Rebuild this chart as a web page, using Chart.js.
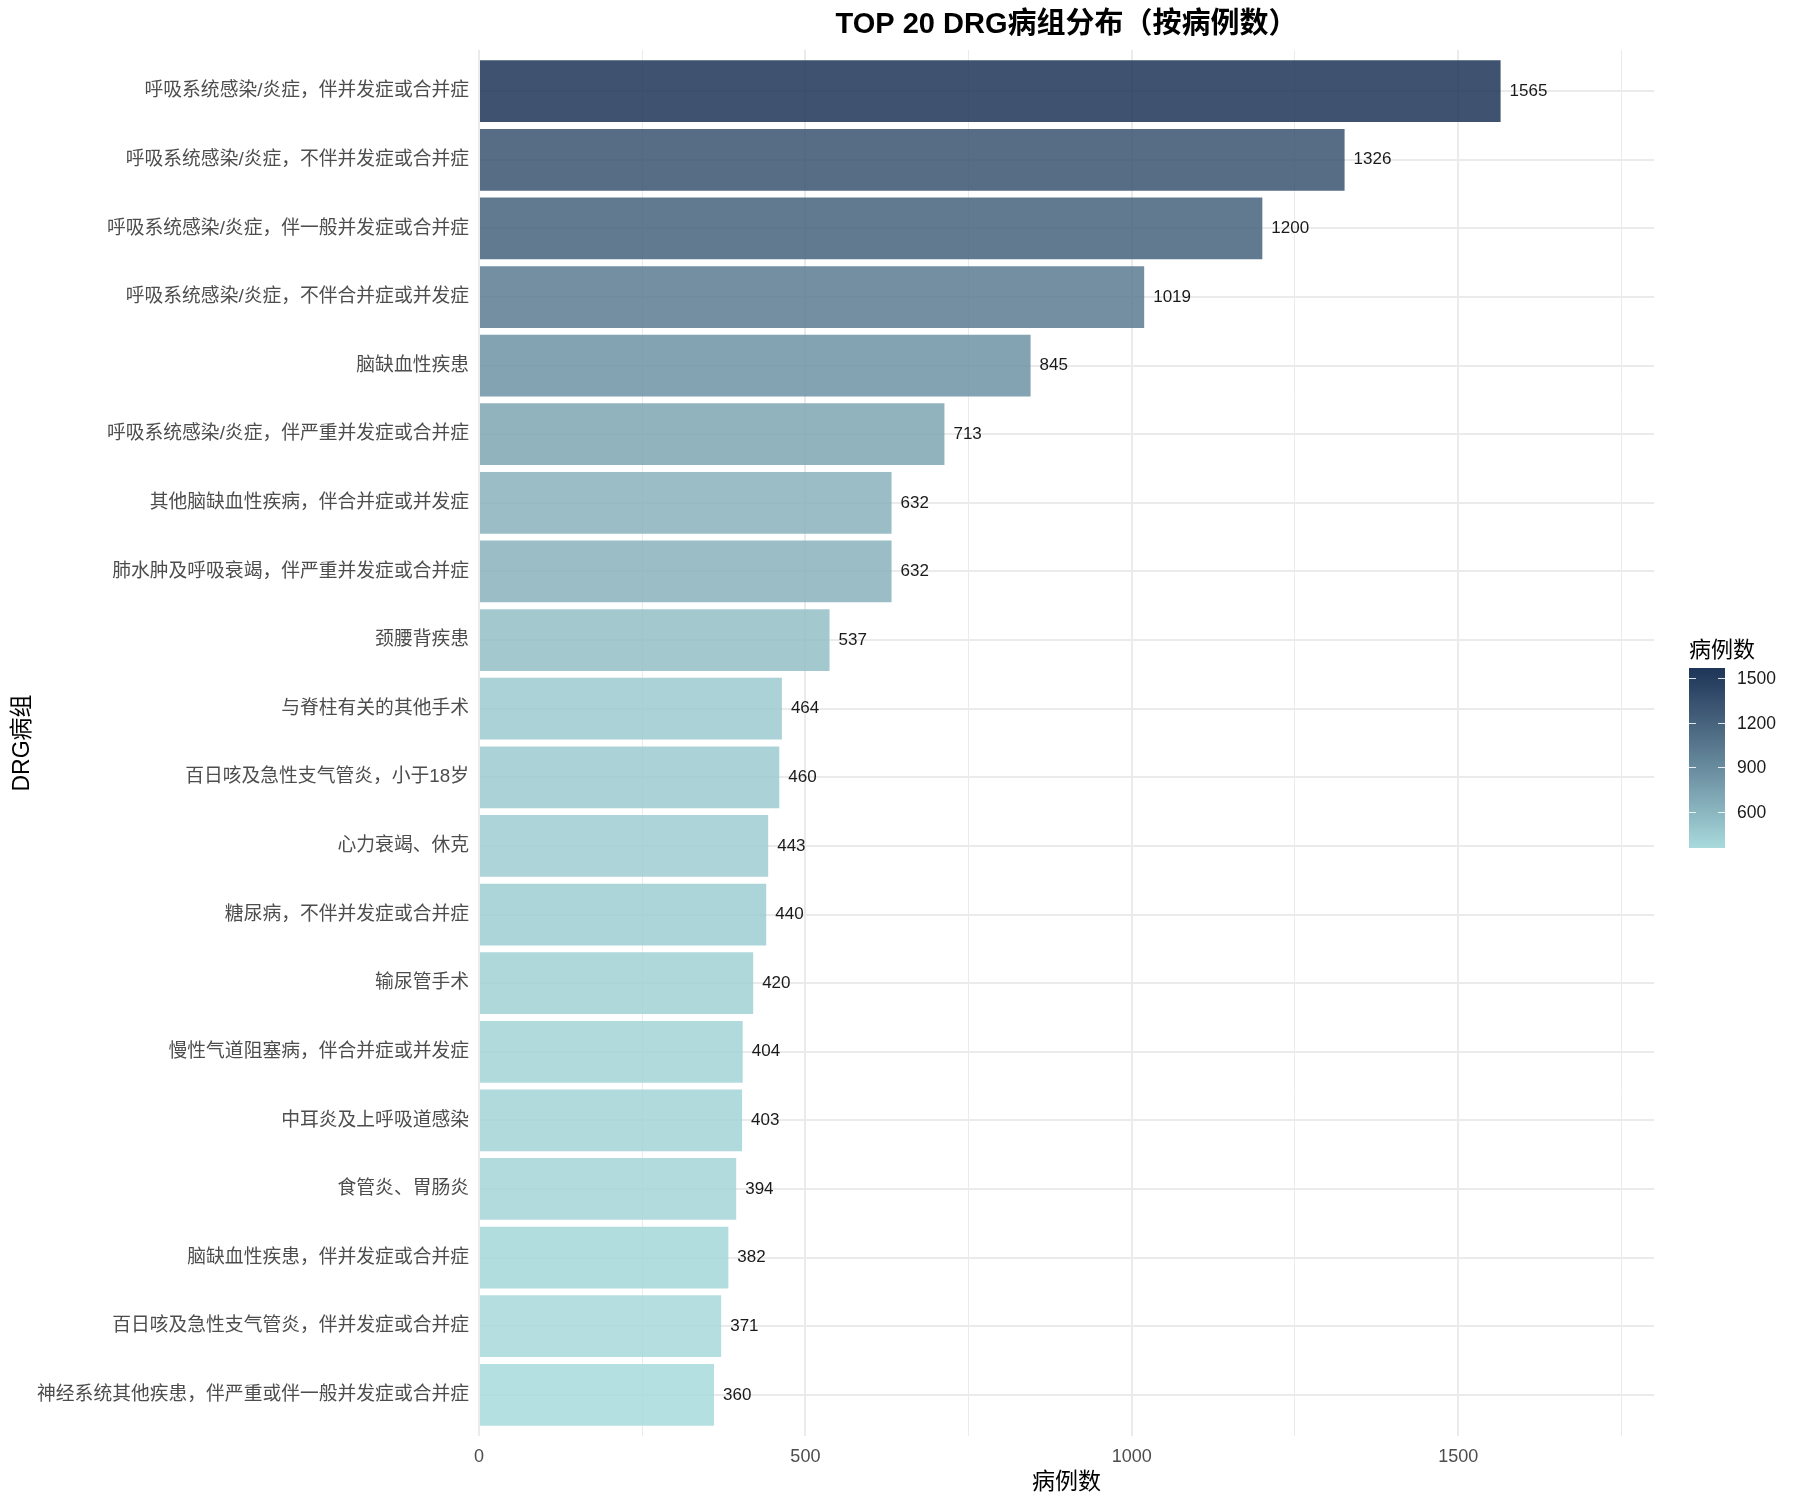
<!DOCTYPE html>
<html>
<head>
<meta charset="utf-8">
<script src="https://cdn.jsdelivr.net/npm/chart.js@4.4.0/dist/chart.umd.min.js"></script>
<style>
  html, body { margin: 0; padding: 0; background: #fff; }
  canvas { display: block; }
</style>
</head>
<body>
<canvas id="chart" width="1800" height="1500"></canvas>
<script>
// TOP 20 DRG groups by case count, largest first (top of the chart)
const groups = [
  "呼吸系统感染/炎症，伴并发症或合并症",
  "呼吸系统感染/炎症，不伴并发症或合并症",
  "呼吸系统感染/炎症，伴一般并发症或合并症",
  "呼吸系统感染/炎症，不伴合并症或并发症",
  "脑缺血性疾患",
  "呼吸系统感染/炎症，伴严重并发症或合并症",
  "其他脑缺血性疾病，伴合并症或并发症",
  "肺水肿及呼吸衰竭，伴严重并发症或合并症",
  "颈腰背疾患",
  "与脊柱有关的其他手术",
  "百日咳及急性支气管炎，小于18岁",
  "心力衰竭、休克",
  "糖尿病，不伴并发症或合并症",
  "输尿管手术",
  "慢性气道阻塞病，伴合并症或并发症",
  "中耳炎及上呼吸道感染",
  "食管炎、胃肠炎",
  "脑缺血性疾患，伴并发症或合并症",
  "百日咳及急性支气管炎，伴并发症或合并症",
  "神经系统其他疾患，伴严重或伴一般并发症或合并症"
];
const cases = [1565, 1326, 1200, 1019, 845, 713, 632, 632, 537, 464,
               460, 443, 440, 420, 404, 403, 394, 382, 371, 360];

const xMax = 1800;
const xGridValues = [0, 250, 500, 750, 1000, 1250, 1500, 1750];
const xLabelValues = [0, 500, 1000, 1500];
const legendTicks = [600, 900, 1200, 1500];

const LOW = "#A8DADC";
const HIGH = "#1D3557";
const BAR_ALPHA = 0.85;

const SANS = '"Liberation Sans", Arial, "Noto Sans CJK SC", sans-serif';

// --- colour gradient, interpolated in Lab like ggplot's scale_fill_gradient
function hexToRgb(h) {
  const n = parseInt(h.slice(1), 16);
  return [(n >> 16) & 255, (n >> 8) & 255, n & 255];
}
function toLin(c) { c /= 255; return c <= 0.04045 ? c / 12.92 : Math.pow((c + 0.055) / 1.055, 2.4); }
function fromLin(c) { const v = c <= 0.0031308 ? 12.92 * c : 1.055 * Math.pow(c, 1 / 2.4) - 0.055; return Math.max(0, Math.min(255, Math.round(v * 255))); }
const WP = [0.95047, 1, 1.08883];
function rgbToLab(rgb) {
  const [r, g, b] = rgb.map(toLin);
  const xyz = [
    0.4124 * r + 0.3576 * g + 0.1805 * b,
    0.2126 * r + 0.7152 * g + 0.0722 * b,
    0.0193 * r + 0.1192 * g + 0.9505 * b
  ].map((v, i) => v / WP[i]);
  const f = t => t > 0.008856 ? Math.cbrt(t) : 7.787 * t + 16 / 116;
  const [fx, fy, fz] = xyz.map(f);
  return [116 * fy - 16, 500 * (fx - fy), 200 * (fy - fz)];
}
function labToRgb([L, a, b]) {
  const fy = (L + 16) / 116, fx = fy + a / 500, fz = fy - b / 200;
  const inv = t => t * t * t > 0.008856 ? t * t * t : (t - 16 / 116) / 7.787;
  const [x, y, z] = [inv(fx), inv(fy), inv(fz)].map((v, i) => v * WP[i]);
  return [
     3.2406 * x - 1.5372 * y - 0.4986 * z,
    -0.9689 * x + 1.8758 * y + 0.0415 * z,
     0.0557 * x - 0.2040 * y + 1.0570 * z
  ].map(fromLin);
}
const labLow = rgbToLab(hexToRgb(LOW));
const labHigh = rgbToLab(hexToRgb(HIGH));
const vMin = Math.min(...cases), vMax = Math.max(...cases);
function colorFor(v, alpha) {
  const t = (v - vMin) / (vMax - vMin);
  const lab = labLow.map((c, i) => c + (labHigh[i] - c) * t);
  const [r, g, b] = labToRgb(lab);
  return `rgba(${r},${g},${b},${alpha})`;
}

// --- plugins: title over the panel, value labels, colourbar legend
const panelTitle = {
  id: "panelTitle",
  afterDraw(chart) {
    const { ctx, chartArea } = chart;
    ctx.save();
    ctx.font = `bold 29px ${SANS}`;
    ctx.fillStyle = "#000";
    ctx.textAlign = "center";
    ctx.textBaseline = "middle";
    ctx.fillText("TOP 20 DRG病组分布（按病例数）", (chartArea.left + chartArea.right) / 2, 25);
    ctx.restore();
  }
};

const valueLabels = {
  id: "valueLabels",
  afterDatasetsDraw(chart) {
    const { ctx } = chart;
    const meta = chart.getDatasetMeta(0);
    ctx.save();
    ctx.font = `17px ${SANS}`;
    ctx.fillStyle = "#1a1a1a";
    ctx.textAlign = "left";
    ctx.textBaseline = "middle";
    meta.data.forEach((bar, i) => {
      ctx.fillText(String(cases[i]), bar.x + 9, bar.y);
    });
    ctx.restore();
  }
};

const colourbar = {
  id: "colourbar",
  afterDraw(chart) {
    const { ctx } = chart;
    const x0 = 1689, w = 36, yTop = 668, yBot = 848;
    const yFor = v => yBot - (v - vMin) / (vMax - vMin) * (yBot - yTop);
    ctx.save();
    ctx.font = `22px ${SANS}`;
    ctx.fillStyle = "#000";
    ctx.textAlign = "left";
    ctx.textBaseline = "middle";
    ctx.fillText("病例数", x0, 651);
    const grad = ctx.createLinearGradient(0, yBot, 0, yTop);
    for (let k = 0; k <= 20; k++) {
      const v = vMin + (vMax - vMin) * k / 20;
      grad.addColorStop(k / 20, colorFor(v, 1));
    }
    ctx.fillStyle = grad;
    ctx.fillRect(x0, yTop, w, yBot - yTop);
    ctx.strokeStyle = "rgba(255,255,255,0.85)";
    ctx.lineWidth = 1;
    ctx.font = `17.5px ${SANS}`;
    ctx.fillStyle = "#1a1a1a";
    legendTicks.forEach(v => {
      const y = Math.round(yFor(v)) + 0.5;
      ctx.beginPath();
      ctx.moveTo(x0, y); ctx.lineTo(x0 + 7, y);
      ctx.moveTo(x0 + w - 7, y); ctx.lineTo(x0 + w, y);
      ctx.stroke();
      ctx.fillText(String(v), 1737, y + 1);
    });
    ctx.restore();
  }
};

new Chart(document.getElementById("chart"), {
  type: "bar",
  data: {
    datasets: [{
      data: cases.map((v, i) => ({ x: v, y: i })),
      backgroundColor: cases.map(v => colorFor(v, BAR_ALPHA)),
      borderWidth: 0,
      barPercentage: 0.9,
      categoryPercentage: 1.0
    }]
  },
  options: {
    indexAxis: "y",
    responsive: false,
    animation: false,
    layout: { padding: { top: 50, right: 146, bottom: 0, left: 0 } },
    plugins: {
      legend: { display: false },
      tooltip: { enabled: false },
      title: { display: false }
    },
    scales: {
      x: {
        type: "linear",
        min: 0,
        max: xMax,
        border: { display: false },
        afterBuildTicks(scale) { scale.ticks = xGridValues.map(v => ({ value: v })); },
        grid: {
          drawTicks: false,
          color: "#ebebeb",
          lineWidth: ctx => (ctx.tick && xLabelValues.includes(ctx.tick.value)) ? 2 : 1
        },
        ticks: {
          padding: 10,
          autoSkip: false,
          maxRotation: 0,
          color: "#4d4d4d",
          font: { family: SANS, size: 18 },
          callback: v => xLabelValues.includes(v) ? String(v) : ""
        },
        title: {
          display: true,
          text: "病例数",
          color: "#000",
          font: { family: SANS, size: 23 },
          padding: { top: 0, bottom: 4 }
        },
        afterFit(scale) { scale.height = 64; }
      },
      y: {
        type: "linear",
        reverse: true,
        min: -0.6,
        max: groups.length - 0.4,
        offset: false,
        border: { display: false },
        afterBuildTicks(scale) { scale.ticks = groups.map((g, i) => ({ value: i })); },
        grid: { offset: false, drawTicks: false, color: "#ebebeb", lineWidth: 2 },
        ticks: {
          padding: 10,
          autoSkip: false,
          color: "#4d4d4d",
          font: { family: SANS, size: 18.8 },
          callback: v => groups[v] ?? ""
        },
        title: {
          display: true,
          text: "DRG病组",
          color: "#000",
          font: { family: SANS, size: 23 },
          padding: { top: 9, bottom: 0 }
        },
        afterFit(scale) { scale.width = 479; }
      }
    }
  },
  plugins: [panelTitle, valueLabels, colourbar]
});
</script>
</body>
</html>
